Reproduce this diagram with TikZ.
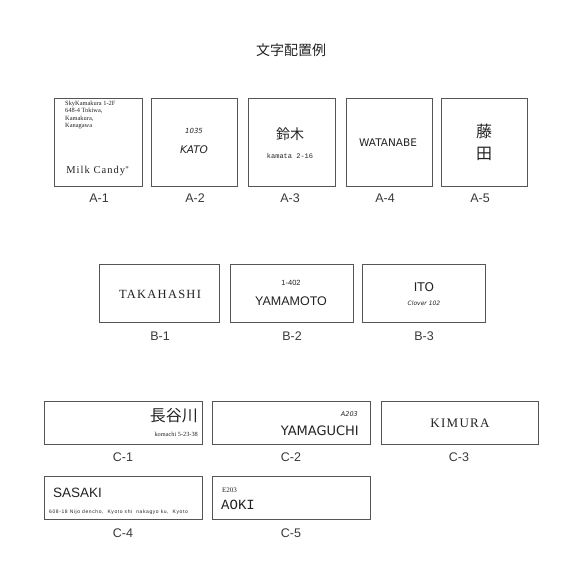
\documentclass[tikz,border=0pt]{standalone}
\usepackage{fontspec}
\newfontfamily\jpfont{Noto Sans CJK JP}
\newfontfamily\lsans{Liberation Sans}
\newfontfamily\lsanswide[LetterSpace=12]{Liberation Sans}
\newfontfamily\dsans{DejaVu Sans}
\newfontfamily\lserif{Liberation Serif}
\newfontfamily\lserifwide[LetterSpace=10]{Liberation Serif}
\newfontfamily\lmono{Liberation Mono}
\definecolor{framegray}{HTML}{555555}
\definecolor{inkgray}{HTML}{222222}
\tikzset{
  plate/.style={draw=framegray, line width=0.6pt, inner sep=0pt, text=inkgray},
  platelabel/.style={font=\lsans\fontsize{12.5}{12.5}\selectfont, text=inkgray!90},
  ink/.style={inner sep=0pt, text=inkgray}
}
\begin{document}
\begin{tikzpicture}[x=1pt, y=-1pt]
    \useasboundingbox (0,0) rectangle (583,583);
    \node[ink, font=\jpfont\fontsize{14}{14}\selectfont] (title) at (291,50) {文字配置例};
    % A
    \node[plate, minimum width=88pt, minimum height=88pt] (a1) at (98,142) {};
    \node[plate, minimum width=86pt, minimum height=88pt] (a2) at (194,142) {};
    \node[plate, minimum width=87pt, minimum height=88pt] (a3) at (291.5,142) {};
    \node[plate, minimum width=86pt, minimum height=88pt] (a4) at (389,142) {};
    \node[plate, minimum width=86pt, minimum height=88pt] (a5) at (484,142) {};
    \node[ink, anchor=north west, align=left, font=\lserif\fontsize{6.4}{7.3}\selectfont] (a1addr) at (65,101) {SkyKamakura 1-2F\\648-4 Tokiwa,\\Kamakura,\\Kanagawa};
    \node[ink, font=\lserifwide\fontsize{10.5}{10.5}\selectfont] (a1name) at (98,171) {Milk Candy$^{\ast}$};
    \node[ink, font=\dsans\itshape\fontsize{7}{7}\selectfont] (a2no) at (194,131) {1035};
    \node[ink, font=\dsans\itshape\fontsize{10.5}{10.5}\selectfont] (a2name) at (194,150) {KATO};
    \node[ink, font=\jpfont\fontsize{14}{14}\selectfont] (a3name) at (290,134) {鈴木};
    \node[ink, font=\lmono\fontsize{7}{7}\selectfont] (a3addr) at (290,156) {kamata 2-16};
    \node[ink, font=\dsans\fontsize{10.5}{10.5}\selectfont] (a4name) at (388,143) {WATANABE};
    \node[ink, font=\jpfont\fontsize{16}{16}\selectfont] (a5top) at (484,131) {藤};
    \node[ink, font=\jpfont\fontsize{16}{16}\selectfont] (a5bot) at (484,154) {田};
    \node[platelabel] (la1) at (99,198) {A-1};
    \node[platelabel] (la2) at (195,198) {A-2};
    \node[platelabel] (la3) at (290,198) {A-3};
    \node[platelabel] (la4) at (385,198) {A-4};
    \node[platelabel] (la5) at (480,198) {A-5};
    % B
    \node[plate, minimum width=120pt, minimum height=58pt] (b1) at (159,293) {};
    \node[plate, minimum width=123pt, minimum height=58pt] (b2) at (291.5,293) {};
    \node[plate, minimum width=123pt, minimum height=58pt] (b3) at (423.5,293) {};
    \node[ink, font=\lserifwide\fontsize{12.5}{12.5}\selectfont] (b1name) at (160,294) {TAKAHASHI};
    \node[ink, font=\lsans\fontsize{7.5}{7.5}\selectfont] (b2no) at (291,283) {1-402};
    \node[ink, font=\lsans\fontsize{12.5}{12.5}\selectfont] (b2name) at (291,301) {YAMAMOTO};
    \node[ink, font=\dsans\fontsize{12}{12}\selectfont] (b3name) at (424,287) {ITO};
    \node[ink, font=\dsans\itshape\fontsize{6}{6}\selectfont] (b3addr) at (424,303) {Clover 102};
    \node[platelabel] (lb1) at (160,336) {B-1};
    \node[platelabel] (lb2) at (292,336) {B-2};
    \node[platelabel] (lb3) at (424,336) {B-3};
    % C
    \node[plate, minimum width=158pt, minimum height=43pt] (c1) at (123,422.5) {};
    \node[plate, minimum width=158pt, minimum height=43pt] (c2) at (291,422.5) {};
    \node[plate, minimum width=157pt, minimum height=43pt] (c3) at (459.5,422.5) {};
    \node[plate, minimum width=158pt, minimum height=43pt] (c4) at (123,497.5) {};
    \node[plate, minimum width=158pt, minimum height=43pt] (c5) at (291,497.5) {};
    \node[ink, anchor=east, font=\jpfont\fontsize{16}{16}\selectfont] (c1name) at (198,416) {長谷川};
    \node[ink, anchor=east, font=\lserif\fontsize{6.3}{6.3}\selectfont] (c1addr) at (198,434) {komachi 5-23-38};
    \node[ink, anchor=east, font=\dsans\itshape\fontsize{6.5}{6.5}\selectfont] (c2no) at (358,414) {A203};
    \node[ink, anchor=east, font=\dsans\fontsize{13}{13}\selectfont] (c2name) at (359,431) {YAMAGUCHI};
    \node[ink, font=\lserifwide\fontsize{13}{13}\selectfont] (c3name) at (460,423) {KIMURA};
    \node[ink, anchor=west, font=\lsans\fontsize{13.5}{13.5}\selectfont] (c4name) at (53,493) {SASAKI};
    \node[ink, anchor=west, font=\lsanswide\fontsize{5}{5}\selectfont] (c4addr) at (49,512) {608-18 Nijo dencho, \ Kyoto shi \ nakagyo ku, \ Kyoto};
    \node[ink, anchor=west, font=\lserif\fontsize{7}{7}\selectfont] (c5no) at (222,490) {E203};
    \node[ink, anchor=west, font=\lmono\fontsize{14}{14}\selectfont] (c5name) at (221,505) {AOKI};
    \node[platelabel] (lc1) at (123,457) {C-1};
    \node[platelabel] (lc2) at (291,457) {C-2};
    \node[platelabel] (lc3) at (459,457) {C-3};
    \node[platelabel] (lc4) at (123,533) {C-4};
    \node[platelabel] (lc5) at (291,533) {C-5};
\end{tikzpicture}
\end{document}
